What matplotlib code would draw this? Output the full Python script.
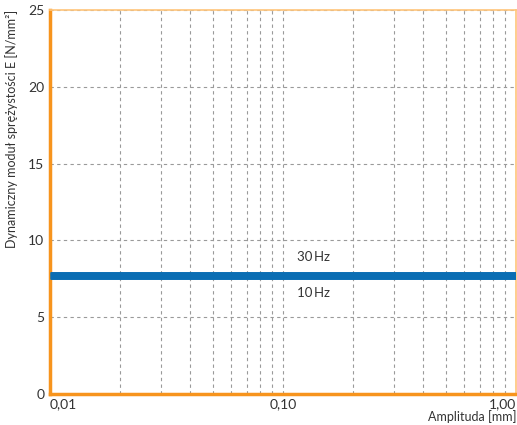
import matplotlib.pyplot as plt
from matplotlib.ticker import FixedLocator, NullFormatter

plt.rcParams['font.family'] = ['Lato', 'DejaVu Sans']

# data
amplitude = [0.01, 1.0]
modulus_10hz = [7.7, 7.7]
modulus_30hz = [7.72, 7.72]
series_labels = ['30\u2009Hz', '10\u2009Hz']
label_values = [8.9, 6.6]
x_ticks = [0.01, 0.1, 1.0]
x_tick_labels = ['0,01', '0,10', '1,00']
y_ticks = [0, 5, 10, 15, 20, 25]

text_color = '#333333'
grid_color = '#9a9a9a'
blue = '#0a6db3'
orange = '#f7941d'
light_orange = '#ffc57a'

fig = plt.figure(figsize=(5.17, 4.25), dpi=100)
ax = fig.add_axes([50 / 517, 31 / 425, 466 / 517, 384 / 425])

ax.set_xscale('log')
ax.set_xlim(0.01, 1.0)
ax.set_ylim(0, 25)

# grid: y majors, x majors + minors, all dashed
ax.yaxis.set_major_locator(FixedLocator(y_ticks))
ax.xaxis.set_major_locator(FixedLocator(x_ticks))
ax.xaxis.set_minor_locator(FixedLocator([m * d for d in (0.01, 0.1) for m in range(2, 10)]))
ax.xaxis.set_minor_formatter(NullFormatter())
ax.grid(True, which='both', axis='x', color=grid_color, linestyle=(0, (3, 3)), linewidth=0.8)
ax.grid(True, which='major', axis='y', color=grid_color, linestyle=(0, (3, 3)), linewidth=0.8)
ax.set_axisbelow(True)

ax.plot(amplitude, modulus_10hz, color=blue, linewidth=5, solid_capstyle='butt', zorder=3)
ax.plot(amplitude, modulus_30hz, color=blue, linewidth=5, solid_capstyle='butt', zorder=3)

for lab, yv in zip(series_labels, label_values):
    ax.text(0.115, yv, lab, color=text_color, fontsize=9.5, ha='left', va='center')

ax.set_xticklabels(x_tick_labels)
tl = ax.get_xticklabels()
tl[0].set_ha('left')
tl[2].set_ha('right')
ax.tick_params(which='both', length=0, labelsize=10, colors=text_color)
ax.tick_params(axis='x', pad=3)
ax.tick_params(axis='y', pad=4)

for side in ('left', 'bottom'):
    ax.spines[side].set_color(orange)
    ax.spines[side].set_linewidth(2.5)
for side in ('top', 'right'):
    ax.spines[side].set_color(light_orange)
    ax.spines[side].set_linewidth(1.2)

ax.set_xlabel('Amplituda [mm]', loc='right', fontsize=9, color=text_color)
ax.xaxis.set_label_coords(1.0, -0.043)
ax.set_ylabel('Dynamiczny moduł sprężystości E [N/mm²]', loc='top', fontsize=9, color=text_color)
ax.yaxis.set_label_coords(-0.068, 1.0)

fig.savefig('out.png', dpi=100)
